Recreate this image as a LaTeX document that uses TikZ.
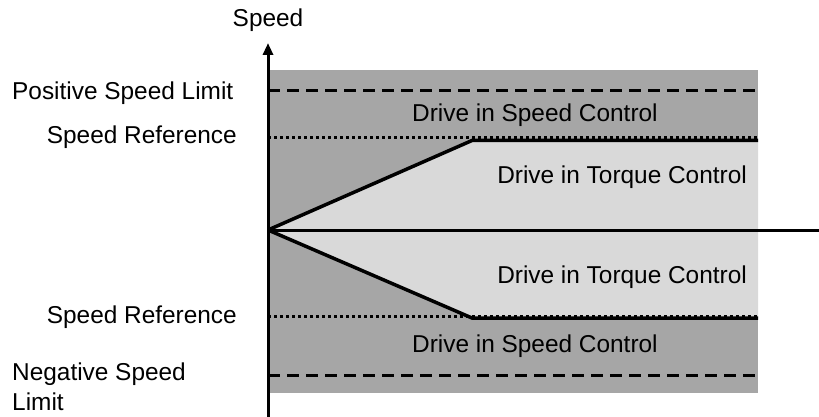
\documentclass[tikz,border=0pt]{standalone}
\usepackage{fontspec}
\setmainfont{Liberation Sans}
\usetikzlibrary{arrows.meta}
\definecolor{darkband}{HTML}{A6A6A6}
\definecolor{lightband}{HTML}{D9D9D9}
\begin{document}
\begin{tikzpicture}[x=1pt,y=-1pt,
  lbl/.style={inner sep=0pt, font=\fontsize{24.4}{30}\selectfont},
  axisline/.style={line width=3pt},
  refline/.style={line width=3.5pt, line join=miter},
  limitline/.style={line width=3pt, dash pattern=on 12pt off 7pt},
  refdots/.style={line width=3pt, dash pattern=on 3pt off 3pt}]
\useasboundingbox (0,0) rectangle (819,417);
% regions
\fill[darkband] (268,70) rectangle (758,393);
\fill[lightband] (268,230) -- (472,140) -- (758,140) -- (758,318) -- (472,318) -- cycle;
% limits and references
\coordinate (pl0) at (268,91); \coordinate (pl1) at (758,91);
\coordinate (nl0) at (268,375); \coordinate (nl1) at (758,375);
\draw[limitline] (pl0) -- (pl1);
\draw[limitline] (nl0) -- (nl1);
\coordinate (pr0) at (268,137.5); \coordinate (pr1) at (758,137.5);
\coordinate (nr0) at (268,316); \coordinate (nr1) at (758,316);
\draw[refdots] (pr0) -- (pr1);
\draw[refdots] (nr0) -- (nr1);
% speed reference curves
\coordinate (o) at (268,230);
\coordinate (ka) at (472,140.5); \coordinate (kb) at (758,140.5);
\coordinate (kc) at (472,318); \coordinate (kd) at (758,318);
\draw[refline] (o) -- (ka) -- (kb);
\draw[refline] (o) -- (kc) -- (kd);
% axes
\coordinate (xend) at (819,230);
\coordinate (ybot) at (268,417);
\coordinate (ytop) at (268,43);
\draw[axisline] (o) -- (xend);
\draw[axisline,-{Triangle[length=12pt,width=10pt]}] (ybot) -- (ytop);
% labels
\node[lbl, anchor=base] (sp) at (268,27) {Speed};
\node[lbl, anchor=base west] (psl) at (12,100) {Positive Speed Limit};
\node[lbl, anchor=base east] (sr1) at (237,143) {Speed Reference};
\node[lbl, anchor=base east] (sr2) at (237,323) {Speed Reference};
\node[lbl, anchor=base west] (nsl) at (12,380) {Negative Speed};
\node[lbl, anchor=base west] (nsl2) at (12,410) {Limit};
\node[lbl, anchor=base west] (dsc1) at (412,122) {Drive in Speed Control};
\node[lbl, anchor=base west] (dsc2) at (412,352) {Drive in Speed Control};
\node[lbl, anchor=base east] (dtc1) at (747,183) {Drive in Torque Control};
\node[lbl, anchor=base east] (dtc2) at (747,283) {Drive in Torque Control};
\end{tikzpicture}
\end{document}
